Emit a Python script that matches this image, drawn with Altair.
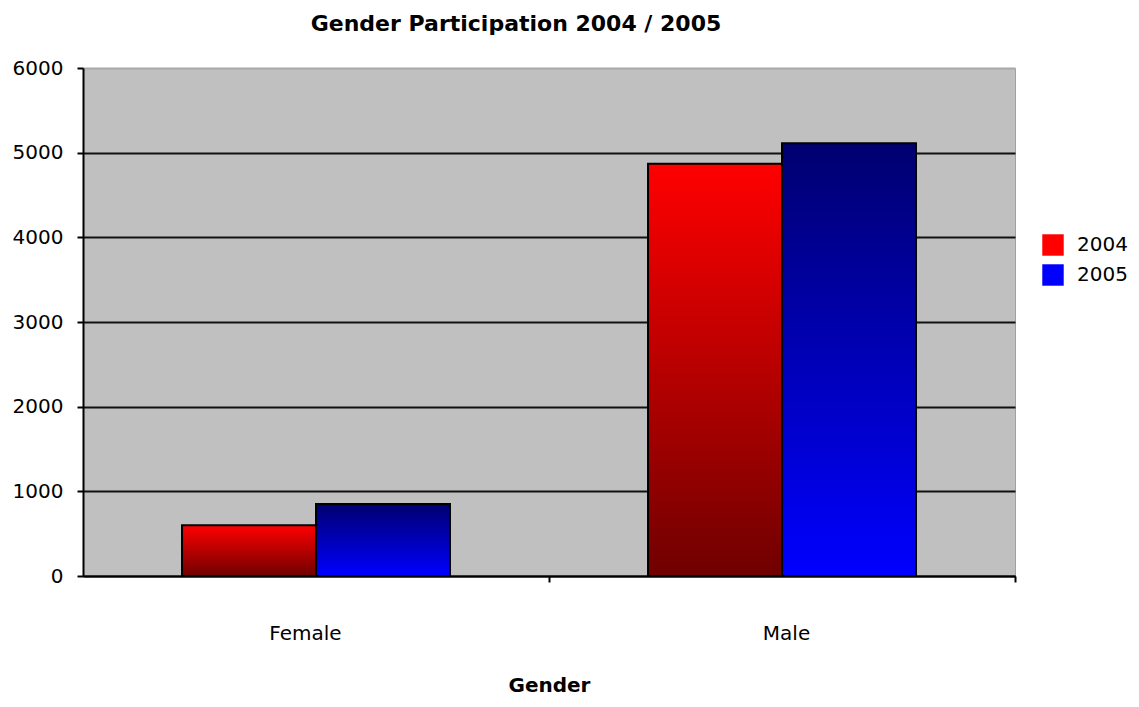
import altair as alt
import pandas as pd

genders = ["Female", "Female", "Male", "Male"]
years = ["2004", "2005", "2004", "2005"]
values = [600, 850, 4870, 5110]

legend_colors = ["#FF0000", "#0000FF"]
y_ticks = [0, 1000, 2000, 3000, 4000, 5000, 6000]

df = pd.DataFrame({"Gender": genders, "Year": years, "Count": values})

FONT = "DejaVu Sans"

red_grad = {
    "gradient": "linear", "x1": 0, "y1": 0, "x2": 0, "y2": 1,
    "stops": [{"offset": 0, "color": "#FF0000"}, {"offset": 1, "color": "#700000"}],
}
blue_grad = {
    "gradient": "linear", "x1": 0, "y1": 0, "x2": 0, "y2": 1,
    "stops": [{"offset": 0, "color": "#000070"}, {"offset": 1, "color": "#0000FF"}],
}

x_enc = alt.X(
    "Gender:N",
    scale=alt.Scale(paddingInner=0.425, paddingOuter=0.2125),
    axis=alt.Axis(
        title="Gender",
        labelAngle=0,
        labelFont=FONT,
        labelFontSize=20,
        labelColor="black",
        labelPadding=41,
        labelOffset={"condition": {"test": "datum.value == 'Female'", "value": -244}, "value": -229},
        tickOffset=233,
        tickColor="black",
        tickSize=6,
        tickWidth=2,
        domainColor="black",
        domainWidth=2,
        titleFont=FONT,
        titleFontSize=20,
        titleFontWeight="bold",
        titleColor="black",
        titlePadding=32,
        grid=False,
    ),
)
y_enc = alt.Y(
    "Count:Q",
    scale=alt.Scale(domain=[0, 6000], nice=False),
    axis=alt.Axis(
        title=None,
        values=y_ticks,
        format="d",
        labelFont=FONT,
        labelFontSize=20,
        labelColor="black",
        labelPadding=14,
        tickColor="black",
        tickSize=6,
        tickWidth=2,
        domainColor="black",
        domainWidth=2,
        gridColor={"condition": {"test": "datum.value == 6000", "value": "#A8A8A8"}, "value": "#111111"},
        gridWidth=2,
    ),
)

base = alt.Chart(df).encode(x=x_enc, y=y_enc, xOffset=alt.XOffset("Year:N"))

legend_layer = base.mark_bar().encode(
    color=alt.Color(
        "Year:N",
        scale=alt.Scale(domain=["2004", "2005"], range=legend_colors),
        legend=alt.Legend(
            title=None,
            orient="none",
            legendX=959,
            legendY=166,
            symbolType="square",
            symbolSize=460,
            symbolStrokeWidth=0,
            labelFont=FONT,
            labelFontSize=20,
            labelColor="black",
            rowPadding=8,
            labelOffset=13,
        ),
    )
)

grad_layer = base.mark_bar(stroke="black", strokeWidth=2).encode(
    fill=alt.condition(alt.datum.Year == "2004", alt.value(red_grad), alt.value(blue_grad))
)

chart = (
    alt.layer(legend_layer, grad_layer)
    .properties(
        width=932,
        height=508,
        title=alt.TitleParams(
            "Gender Participation 2004 / 2005",
            font=FONT,
            fontSize=22,
            fontWeight="bold",
            color="black",
            dx=-33,
            offset=22,
        ),
        autosize=alt.AutoSizeParams(type="none"),
        padding={"left": 75, "top": 60, "right": 116, "bottom": 123},
    )
    .configure(background="white", view=alt.ViewConfig(fill="#C0C0C0", stroke="#A0A0A0", strokeWidth=1))
)

chart.save("out.html", embed_options={"renderer": "svg", "actions": False})
